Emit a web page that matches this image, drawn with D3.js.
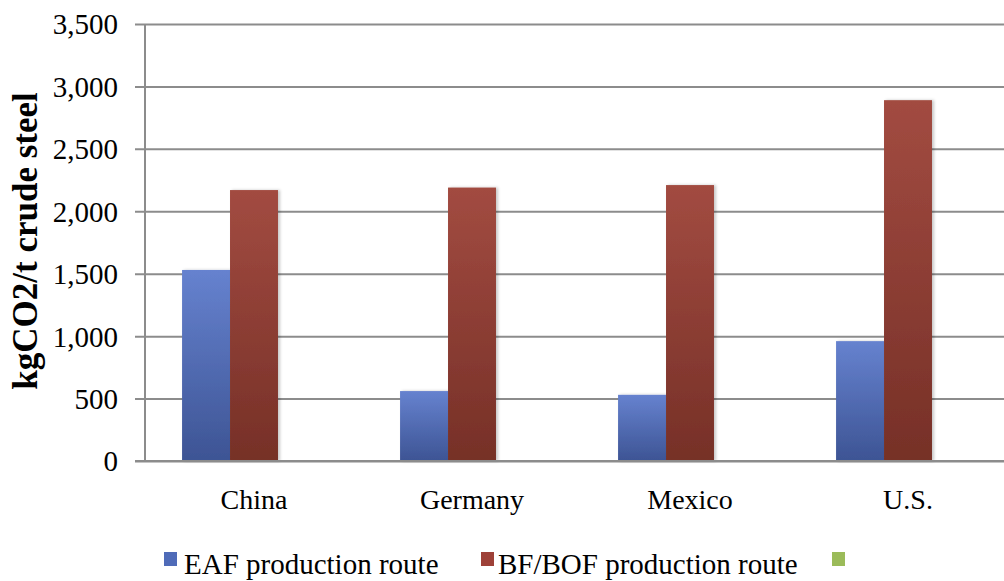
<!DOCTYPE html>
<html>
<head>
<meta charset="utf-8">
<script src="https://cdn.jsdelivr.net/npm/d3@7"></script>
<style>
  html, body { margin: 0; padding: 0; background: #fff; }
  svg { display: block; }
  text { font-family: "Liberation Serif", "Times New Roman", Times, serif; fill: #000; }
</style>
</head>
<body>
<svg id="chart" width="1004" height="581"></svg>
<script>
// Emissions intensity by production route
const countries = ["China", "Germany", "Mexico", "U.S."];
const seriesNames = ["EAF production route", "BF/BOF production route", ""];
const eafValues = [1530, 560, 530, 960];
const bfBofValues = [2170, 2190, 2210, 2890];
const thirdValues = [0, 0, 0, 0];
const yTicks = [0, 500, 1000, 1500, 2000, 2500, 3000, 3500];
const yTitle = "kgCO2/t crude steel";

const seriesValues = [eafValues, bfBofValues, thirdValues];
const seriesColors = [
  { top: "#6682cf", bottom: "#3d5494", legend: "#4f6bb8" },
  { top: "#a24b41", bottom: "#763027", legend: "#9e4138" },
  { top: "#a4c263", bottom: "#7d9a3e", legend: "#9bbb59" }
];

const FONT = "'Liberation Serif', 'Times New Roman', Times, serif";
const svg = d3.select("#chart");
const plotLeft = 145, plotTop = 24, plotRight = 1017, plotBottom = 461;

const x = d3.scaleBand().domain(countries).range([plotLeft, plotRight]);
const barWidth = x.bandwidth() * 0.22;
const xs = d3.scaleBand().domain(d3.range(seriesNames.length)).range([0, barWidth * 3]);
const groupOffset = (x.bandwidth() - barWidth * 3) / 2;

const y = d3.scaleLinear().domain([0, 3500]).range([plotBottom, plotTop]);

// Vertical gradients for the bars
const defs = svg.append("defs");
seriesColors.forEach((c, i) => {
  const g = defs.append("linearGradient").attr("id", "grad" + i)
    .attr("x1", 0).attr("y1", 0).attr("x2", 0).attr("y2", 1);
  g.append("stop").attr("offset", "0%").attr("stop-color", c.top);
  g.append("stop").attr("offset", "100%").attr("stop-color", c.bottom);
});
const shadow = defs.append("filter").attr("id", "shadow")
  .attr("x", "-20%").attr("y", "-5%").attr("width", "150%").attr("height", "115%");
shadow.append("feDropShadow").attr("dx", 2).attr("dy", 0).attr("stdDeviation", 1.5)
  .attr("flood-color", "#000").attr("flood-opacity", 0.22);

// Gridlines and y axis labels
const yAxis = d3.axisLeft(y).tickValues(yTicks).tickSize(-(plotRight - plotLeft))
  .tickSizeOuter(0).tickPadding(27).tickFormat(d3.format(","));
const gy = svg.append("g").attr("transform", `translate(${plotLeft},0)`).call(yAxis);
gy.select(".domain").remove();
gy.selectAll(".tick line").attr("x1", -10).attr("stroke", "#8c8c8c").attr("stroke-width", 2);
gy.selectAll(".tick text").attr("font-size", 29).attr("font-family", FONT).attr("fill", "#000")
  .attr("dy", "0.34em");
svg.append("line").attr("x1", plotLeft).attr("x2", plotLeft).attr("y1", plotTop).attr("y2", plotBottom)
  .attr("stroke", "#8c8c8c").attr("stroke-width", 2);

// Bars
const groups = svg.append("g").selectAll("g").data(countries).join("g")
  .attr("transform", d => `translate(${x(d) + groupOffset},0)`);
groups.selectAll("rect")
  .data((d, i) => seriesValues.map((vals, s) => ({ s, v: vals[i] })))
  .join("rect")
  .filter(d => d.v > 0)
  .attr("x", d => xs(d.s))
  .attr("width", xs.bandwidth())
  .attr("y", d => y(d.v))
  .attr("height", d => plotBottom - y(d.v))
  .attr("fill", d => `url(#grad${d.s})`)
  .attr("filter", "url(#shadow)");

// Baseline drawn over the bars
svg.append("line").attr("x1", plotLeft - 10).attr("x2", plotRight).attr("y1", plotBottom).attr("y2", plotBottom)
  .attr("stroke", "#8c8c8c").attr("stroke-width", 2);

// Category labels
const xAxis = d3.axisBottom(x).tickSize(0).tickPadding(0);
const gx = svg.append("g").attr("transform", `translate(0,${plotBottom})`).call(xAxis);
gx.select(".domain").remove();
gx.selectAll(".tick text").attr("font-size", 28).attr("font-family", FONT).attr("fill", "#000")
  .attr("y", 48).attr("dy", 0);

// Y axis title
svg.append("text")
  .attr("transform", "translate(37,241) rotate(-90)")
  .attr("text-anchor", "middle")
  .attr("font-size", 35)
  .attr("font-weight", "bold")
  .attr("font-family", FONT)
  .text(yTitle);

// Legend
const legendItems = [
  { x: 164, tx: 184, name: seriesNames[0], color: seriesColors[0].legend },
  { x: 481, tx: 498, name: seriesNames[1], color: seriesColors[1].legend },
  { x: 832, tx: 850, name: seriesNames[2], color: seriesColors[2].legend }
];
const lg = svg.append("g").selectAll("g").data(legendItems).join("g");
lg.append("rect").attr("x", d => d.x).attr("y", 552).attr("width", 13).attr("height", 14)
  .attr("fill", d => d.color);
lg.append("text").attr("x", d => d.tx).attr("y", 574).attr("font-size", 29)
  .attr("font-family", FONT).text(d => d.name);
</script>
</body>
</html>
